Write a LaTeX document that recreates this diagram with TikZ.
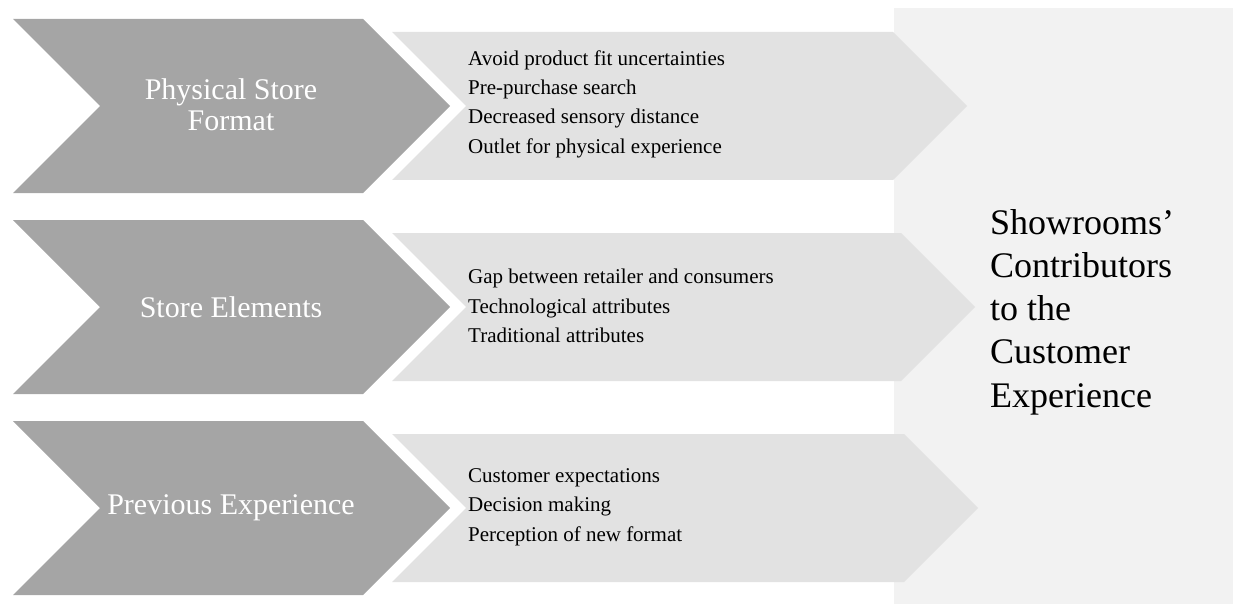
\documentclass[tikz,border=0pt]{standalone}
\usepackage{fontspec}
\setmainfont{Liberation Serif}
\definecolor{chevdark}{HTML}{A5A5A5}
\definecolor{chevlight}{HTML}{E2E2E2}
\definecolor{panelgray}{HTML}{F2F2F2}
\tikzset{
  headtext/.style={text=white, align=center, inner sep=0pt,
    font=\fontsize{30}{31}\selectfont},
  listtext/.style={text=black, align=left, inner sep=0pt, anchor=west,
    font=\fontsize{21}{29.4}\selectfont},
  paneltext/.style={text=black, align=left, inner sep=0pt, anchor=west,
    font=\fontsize{36}{43.3}\selectfont},
}
\begin{document}
\begin{tikzpicture}[x=1pt,y=-1pt]
\useasboundingbox (0,0) rectangle (1233,604);

% summary panel on the right
\fill[panelgray] (894,8) rectangle (1233,604);

% dark chevrons: top edge, height 174, notch and tip depth 87
\foreach \t in {19,220,421}{
  \fill[chevdark] (13,\t) -- (363,\t) -- (450,\t+87) -- (363,\t+174)
    -- (13,\t+174) -- (100,\t+87) -- cycle;
}

% light chevrons: top edge, right corner x
\foreach \t/\r in {32/893,233/901,434/904}{
  \fill[chevlight] (392,\t) -- (\r,\t) -- (\r+74,\t+74) -- (\r,\t+148)
    -- (392,\t+148) -- (466,\t+74) -- cycle;
}

% headings on the dark chevrons
\node[headtext] (h1) at (231,105) {Physical Store\\Format};
\node[headtext] (h2) at (231,307) {Store Elements};
\node[headtext] (h3) at (231,508) {Previous Experience};

% details on the light chevrons
\node[listtext] (l1) at (468,104) {Avoid product fit uncertainties\\Pre-purchase search\\Decreased sensory distance\\Outlet for physical experience};
\node[listtext] (l2) at (468,306) {Gap between retailer and consumers\\Technological attributes\\Traditional attributes};
\node[listtext] (l3) at (468,507) {Customer expectations\\Decision making\\Perception of new format};

% panel title
\node[paneltext] (p) at (990,312) {Showrooms’\\Contributors\\to the\\Customer\\Experience};
\end{tikzpicture}
\end{document}
